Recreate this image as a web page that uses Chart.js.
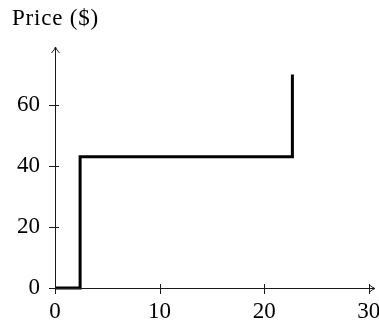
<!DOCTYPE html>
<html>
<head>
<meta charset="utf-8">
<script src="https://cdn.jsdelivr.net/npm/chart.js@4"></script>
<style>
html,body{margin:0;padding:0;background:#fff;}
#wrap{width:379px;height:322px;position:relative;}
</style>
</head>
<body>
<div id="wrap"><canvas id="c" width="379" height="322"></canvas></div>
<script>
const quantity = [0, 2.4, 2.4, 22.7, 22.7];
const price = [0, 0, 43, 43, 70];
const xTicks = [0, 10, 20, 30];
const yTicks = [0, 20, 40, 60];
const yTitle = 'Price ($)';

const FONT = '"Liberation Serif", "Times New Roman", serif';

const axesPlugin = {
  id: 'axesArrows',
  afterDatasetsDraw(chart) {
    const ctx = chart.ctx;
    const xs = chart.scales.x, ys = chart.scales.y;
    const x0 = xs.getPixelForValue(0), y0 = ys.getPixelForValue(0);
    const ca = chart.chartArea;
    ctx.save();
    ctx.strokeStyle = '#1a1a1a';
    ctx.lineWidth = 1;
    ctx.beginPath();
    ctx.moveTo(x0 + 0.5, y0 + 6); ctx.lineTo(x0 + 0.5, ca.top);
    ctx.moveTo(x0 - 6, y0 + 0.5); ctx.lineTo(ca.right, y0 + 0.5);
    ctx.stroke();
    ctx.beginPath();
    xTicks.forEach(v => {
      const px = Math.round(xs.getPixelForValue(v)) + 0.5;
      ctx.moveTo(px, y0 - 4); ctx.lineTo(px, y0 + 6);
    });
    yTicks.forEach(v => {
      const py = Math.round(ys.getPixelForValue(v)) + 0.5;
      ctx.moveTo(x0 - 6, py); ctx.lineTo(x0 + 4, py);
    });
    ctx.stroke();
    ctx.beginPath();
    const ax = x0 + 0.5, ay = ca.top;
    ctx.moveTo(ax - 4, ay + 6); ctx.quadraticCurveTo(ax - 1, ay + 3, ax, ay);
    ctx.quadraticCurveTo(ax + 1, ay + 3, ax + 4, ay + 6);
    const bx = ca.right, by = y0 + 0.5;
    ctx.moveTo(bx - 6, by - 4); ctx.quadraticCurveTo(bx - 3, by - 1, bx, by);
    ctx.quadraticCurveTo(bx - 3, by + 1, bx - 6, by + 4);
    ctx.stroke();
    ctx.fillStyle = '#000';
    ctx.font = '23px ' + FONT;
    ctx.letterSpacing = '0.8px';
    ctx.textAlign = 'left';
    ctx.textBaseline = 'alphabetic';
    ctx.fillText(yTitle, 12, 25);
    ctx.restore();
  }
};

new Chart(document.getElementById('c'), {
  type: 'line',
  data: {
    datasets: [{
      data: quantity.map((q, i) => ({x: q, y: price[i]})),
      borderColor: '#000',
      borderWidth: 3,
      borderJoinStyle: 'miter',
      borderCapStyle: 'butt',
      pointRadius: 0,
      tension: 0,
      fill: false,
      clip: false
    }]
  },
  options: {
    responsive: false,
    animation: false,
    devicePixelRatio: 1,
    layout: {padding: {top: 47, right: 4, left: 0, bottom: 0}},
    plugins: {legend: {display: false}, tooltip: {enabled: false}, title: {display: false}},
    scales: {
      x: {
        type: 'linear', min: 0, max: 30.6,
        afterBuildTicks: s => { s.ticks = xTicks.map(v => ({value: v})); },
        afterFit: s => { s.height = 34; s.paddingLeft = 0; s.paddingRight = 0; },
        grid: {display: false, drawTicks: false},
        border: {display: false},
        ticks: {color: '#000', font: {family: FONT, size: 23}, padding: 10, maxRotation: 0, autoSkip: false}
      },
      y: {
        type: 'linear', min: 0, max: 79,
        afterBuildTicks: s => { s.ticks = yTicks.map(v => ({value: v})); },
        afterFit: s => { s.width = 55; s.paddingTop = 0; s.paddingBottom = 0; },
        grid: {display: false, drawTicks: false},
        border: {display: false},
        ticks: {color: '#000', font: {family: FONT, size: 23}, padding: 15, autoSkip: false}
      }
    }
  },
  plugins: [axesPlugin]
});
</script>
</body>
</html>
